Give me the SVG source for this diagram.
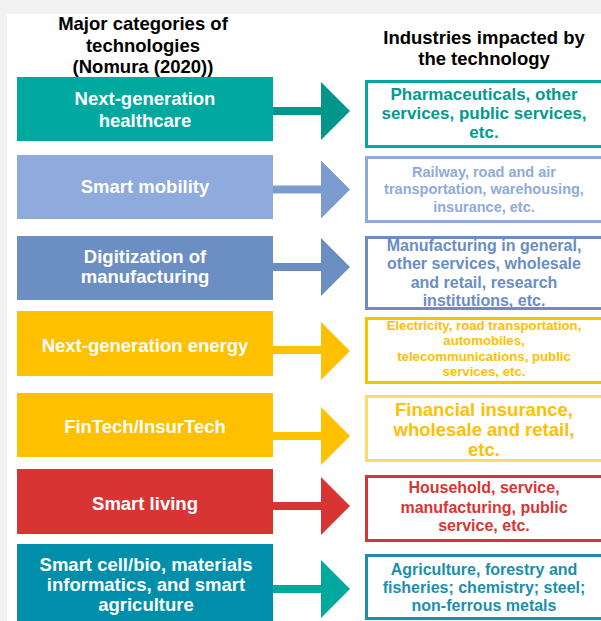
<svg xmlns="http://www.w3.org/2000/svg" width="601" height="621" viewBox="0 0 601 621">
<style>
text{font-family:"Liberation Sans",Arial,sans-serif;font-weight:bold;text-anchor:middle}
.hd{font-size:18.5px;fill:#000}
.lt{font-size:18.5px;fill:#fff}
.rb{fill:#fff;stroke-width:3}
</style>
<rect x="0" y="0" width="601" height="621" fill="#f2f2f2"/>
<rect x="7" y="14" width="594" height="607" fill="#fff"/>
<g id="header-left">
<text class="hd" x="143" y="30">Major categories of</text>
<text class="hd" x="143" y="52">technologies</text>
<text class="hd" x="143" y="73">(Nomura (2020))</text>
</g>
<g id="header-right">
<text class="hd" x="484" y="44">Industries impacted by</text>
<text class="hd" x="484" y="65">the technology</text>
</g>
<g id="connectors">
<path d="M270,107 H321 V82 L350,111 L321,140 V115 H270 Z" fill="#00968a"/>
<path d="M270,185.5 H321 V160.5 L350,189.5 L321,218.5 V193.5 H270 Z" fill="#7b9bd1"/>
<path d="M270,263 H321 V238 L350,267 L321,296 V271 H270 Z" fill="#6a8ec2"/>
<path d="M270,346 H321 V322 L350,351 L321,380 V354 H270 Z" fill="#ffc000"/>
<path d="M270,432 H321 V407 L350,436 L321,465 V440 H270 Z" fill="#ffc000"/>
<path d="M270,502 H321 V477 L350,506 L321,535 V510 H270 Z" fill="#d93434"/>
<path d="M270,585 H321 V560 L350,589 L321,618 V593 H270 Z" fill="#00a99d"/>
</g>
<g id="tech-healthcare">
<rect x="17" y="77" width="256" height="64" fill="#00a99f"/>
<text class="lt" x="145" y="105">Next-generation</text>
<text class="lt" x="145" y="127">healthcare</text>
</g>
<g id="tech-mobility">
<rect x="17" y="155" width="256" height="64" fill="#8faadc"/>
<text class="lt" x="145" y="193">Smart mobility</text>
</g>
<g id="tech-manufacturing">
<rect x="17" y="236" width="256" height="64" fill="#6b8fc2"/>
<text class="lt" x="145" y="263">Digitization of</text>
<text class="lt" x="145" y="283">manufacturing</text>
</g>
<g id="tech-energy">
<rect x="17" y="311" width="256" height="65" fill="#ffc000"/>
<text class="lt" x="145" y="352">Next-generation energy</text>
</g>
<g id="tech-fintech">
<rect x="17" y="393" width="256" height="64" fill="#ffc000"/>
<text class="lt" x="145" y="433">FinTech/InsurTech</text>
</g>
<g id="tech-living">
<rect x="17" y="469" width="256" height="65" fill="#d93434"/>
<text class="lt" x="145" y="510">Smart living</text>
</g>
<g id="tech-bio">
<rect x="17" y="544" width="256" height="80" fill="#008faa"/>
<text class="lt" x="146" y="571">Smart cell/bio, materials</text>
<text class="lt" x="146" y="591">informatics, and smart</text>
<text class="lt" x="146" y="611">agriculture</text>
</g>
<g id="ind-healthcare">
<rect class="rb" x="366.5" y="81.5" width="250" height="65" stroke="#00a99f"/>
<text x="484" y="100" font-size="17" fill="#009b8e">Pharmaceuticals, other</text>
<text x="484" y="119" font-size="17" fill="#009b8e">services, public services,</text>
<text x="484" y="138" font-size="17" fill="#009b8e">etc.</text>
</g>
<g id="ind-mobility">
<rect class="rb" x="366.5" y="157.5" width="250" height="64" stroke="#8faadc"/>
<text x="484" y="177" font-size="14.5" fill="#8faadc">Railway, road and air</text>
<text x="484" y="194" font-size="14.5" fill="#8faadc">transportation, warehousing,</text>
<text x="484" y="212" font-size="14.5" fill="#8faadc">insurance, etc.</text>
</g>
<g id="ind-manufacturing">
<rect class="rb" x="366.5" y="237.5" width="250" height="71" stroke="#6a8ec2"/>
<text x="484" y="251" font-size="16" fill="#6a8ec2">Manufacturing in general,</text>
<text x="484" y="269" font-size="16" fill="#6a8ec2">other services, wholesale</text>
<text x="484" y="288" font-size="16" fill="#6a8ec2">and retail, research</text>
<text x="484" y="306" font-size="16" fill="#6a8ec2">institutions, etc.</text>
</g>
<g id="ind-energy">
<rect class="rb" x="366.5" y="318.5" width="250" height="64" stroke="#ffc000"/>
<text x="484" y="330" font-size="13.2" fill="#ffc000">Electricity, road transportation,</text>
<text x="484" y="345" font-size="13.2" fill="#ffc000">automobiles,</text>
<text x="484" y="361" font-size="13.2" fill="#ffc000">telecommunications, public</text>
<text x="484" y="376" font-size="13.2" fill="#ffc000">services, etc.</text>
</g>
<g id="ind-fintech">
<rect class="rb" x="366.5" y="396.5" width="250" height="64" stroke="#ffd966"/>
<text x="484" y="416" font-size="18.5" fill="#ffc000">Financial insurance,</text>
<text x="484" y="436" font-size="18.5" fill="#ffc000">wholesale and retail,</text>
<text x="484" y="456" font-size="18.5" fill="#ffc000">etc.</text>
</g>
<g id="ind-living">
<rect class="rb" x="366.5" y="476.5" width="250" height="64" stroke="#d93434"/>
<text x="484" y="493" font-size="16" fill="#d93434">Household, service,</text>
<text x="484" y="513" font-size="16" fill="#d93434">manufacturing, public</text>
<text x="484" y="531" font-size="16" fill="#d93434">service, etc.</text>
</g>
<g id="ind-bio">
<rect class="rb" x="366.5" y="555.5" width="250" height="63" stroke="#1b8faa"/>
<text x="484" y="575" font-size="16" fill="#1b8faa">Agriculture, forestry and</text>
<text x="484" y="593" font-size="16" fill="#1b8faa">fisheries; chemistry; steel;</text>
<text x="484" y="611" font-size="16" fill="#1b8faa">non-ferrous metals</text>
</g>
</svg>
